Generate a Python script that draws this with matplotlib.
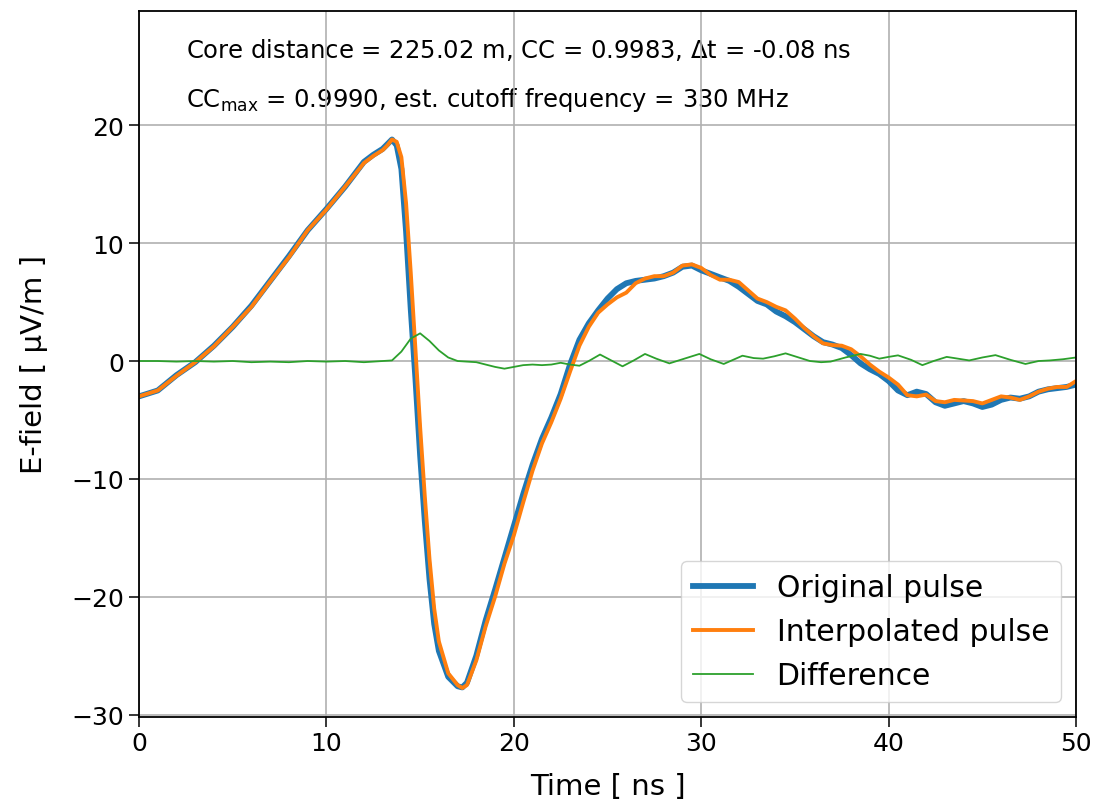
"""E-field pulse: original vs. interpolated trace and their difference."""
import matplotlib

matplotlib.use("Agg")
import matplotlib.pyplot as plt

# time axis of the pulse traces [ns]
time_ns = [0, 1, 2, 3, 4, 5, 6, 7, 8, 9, 10, 11, 12, 12.5, 13, 13.25, 13.5, 13.75,
           14, 14.25, 14.5, 14.75, 15, 15.25, 15.5, 15.75, 16, 16.5, 17, 17.25,
           17.5, 18, 18.5, 19, 19.5, 20, 20.5, 21, 21.5, 22, 22.5, 23, 23.5, 24,
           24.5, 25, 25.5, 26, 26.5, 27, 27.5, 28, 28.5, 29, 29.5, 30, 30.5, 31,
           31.5, 32, 32.5, 33, 33.5, 34, 34.5, 35, 35.5, 36, 36.5, 37, 37.5, 38,
           38.5, 39, 39.5, 40, 40.5, 41, 41.5, 42, 42.5, 43, 43.5, 44, 44.5, 45,
           45.5, 46, 46.5, 47, 47.5, 48, 48.5, 49, 49.5, 50]

original = [-3.0, -2.5, -1.2, -0.1, 1.3, 2.9, 4.7, 6.8, 8.9, 11.1, 12.9, 14.8, 16.9,
            17.5, 18.0, 18.4, 18.8, 18.3, 16.3, 11.0, 4.4, -1.5, -8.0, -13.6,
            -18.5, -22.3, -24.6, -26.8, -27.6, -27.7, -27.3, -25.0, -22.0, -19.4,
            -16.7, -14.0, -11.3, -8.8, -6.6, -4.8, -2.8, -0.3, 1.8, 3.2, 4.3, 5.3,
            6.1, 6.6, 6.8, 6.9, 7.0, 7.2, 7.5, 8.0, 8.1, 7.7, 7.4, 7.1, 6.8, 6.3,
            5.7, 5.1, 4.8, 4.2, 3.8, 3.3, 2.7, 2.1, 1.6, 1.4, 1.1, 0.5, -0.2, -0.7,
            -1.1, -1.7, -2.5, -2.9, -2.6, -2.8, -3.5, -3.8, -3.6, -3.4, -3.6, -3.9,
            -3.7, -3.3, -3.1, -3.2, -3.0, -2.6, -2.4, -2.3, -2.2, -2.0]

interpolated = [-3.0, -2.5, -1.25, -0.1, 1.25, 2.9, 4.6, 6.75, 8.8, 11.1, 12.85, 14.8,
                16.8, 17.4, 17.9, 18.3, 18.8, 18.6, 17.3, 13.4, 7.5, 1.0, -5.6,
                -11.5, -16.8, -21.0, -23.8, -26.5, -27.5, -27.75, -27.5, -25.4,
                -22.5, -20.0, -17.2, -14.8, -12.0, -9.3, -7.0, -5.2, -3.2, -0.9,
                1.3, 2.9, 4.1, 4.8, 5.4, 5.8, 6.6, 7.0, 7.2, 7.2, 7.5, 8.1, 8.2,
                7.9, 7.3, 6.9, 6.9, 6.7, 6.0, 5.3, 5.0, 4.6, 4.3, 3.6, 2.8, 2.1,
                1.5, 1.35, 1.3, 1.0, 0.4, -0.3, -0.9, -1.4, -2.0, -2.9, -3.0, -2.85,
                -3.4, -3.5, -3.3, -3.35, -3.4, -3.6, -3.3, -3.0, -3.1, -3.3, -3.0,
                -2.6, -2.35, -2.2, -2.2, -1.7]

# difference trace (interpolated - original), sampled on its own grid
diff_time_ns = [0, 1, 2, 3, 4, 5, 6, 7, 8, 9, 10, 11, 12, 13, 13.5, 14, 14.5, 15,
                15.5, 16, 16.5, 17, 17.5, 18, 18.5, 19, 19.5, 20, 20.5, 21, 21.5,
                22, 22.5, 23, 23.5, 24, 24.6, 25.2, 25.8, 26.4, 27.0, 27.6, 28.3,
                29.1, 29.9, 30.5, 31.2, 31.7, 32.2, 32.8, 33.3, 33.9, 34.5, 35.2,
                35.8, 36.4, 36.9, 37.7, 38.5, 39.0, 39.5, 40.0, 40.5, 41.2, 41.8,
                42.4, 43.1, 43.7, 44.3, 45.0, 45.7, 46.5, 47.3, 48.0, 48.6, 49.3, 50]
difference = [0.0, 0.0, -0.05, 0.0, -0.05, 0.0, -0.1, -0.05, -0.1, 0.0, -0.05, 0.0,
              -0.1, 0.0, 0.05, 0.8, 1.9, 2.35, 1.7, 0.9, 0.3, 0.0, -0.05, -0.1, -0.3,
              -0.5, -0.65, -0.5, -0.35, -0.3, -0.35, -0.3, -0.15, -0.3, -0.4, 0.0,
              0.55, 0.05, -0.45, 0.05, 0.6, 0.2, -0.2, 0.2, 0.6, 0.15, -0.25, 0.1,
              0.45, 0.25, 0.2, 0.4, 0.65, 0.3, 0.0, -0.1, -0.05, 0.3, 0.6, 0.45,
              0.2, 0.35, 0.48, 0.1, -0.35, 0.0, 0.35, 0.2, 0.05, 0.3, 0.5, 0.1,
              -0.25, 0.0, 0.05, 0.15, 0.3]

info_lines = ["Core distance = 225.02 m, CC = 0.9983, $\\Delta$t = -0.08 ns",
              "CC$_\\mathregular{max}$ = 0.9990, est. cutoff frequency = 330 MHz"]


def main():
    fig = plt.figure(figsize=(10.98, 8.03), dpi=100)
    ax = fig.add_axes([0.1266, 0.106, 0.8534, 0.879])

    ax.plot(time_ns, original, color="#1f77b4", lw=4.2, label="Original pulse")
    ax.plot(time_ns, interpolated, color="#ff7f0e", lw=2.8, label="Interpolated pulse")
    ax.plot(diff_time_ns, difference, color="#2ca02c", lw=1.3, label="Difference")

    ax.set_xlim(0, 50)
    ax.set_ylim(-30.2, 29.7)
    ax.set_yticks([-30, -20, -10, 0, 10, 20])
    ax.grid(True, color="#b0b0b0", lw=1.2)
    for s in ax.spines.values():
        s.set_linewidth(1.3)
    ax.tick_params(labelsize=18, length=7, width=1.1)
    ax.set_xlabel("Time [ ns ]", fontsize=21, labelpad=12)
    ax.set_ylabel("E-field [ µV/m ]", fontsize=21, labelpad=17)

    ax.text(2.5, 26.5, info_lines[0], fontsize=17.5, va="center", zorder=0.5)
    ax.text(2.5, 22.2, info_lines[1], fontsize=17.5, va="center", zorder=0.5)

    ax.legend(loc="lower right", fontsize=21.5)

    fig.savefig("out.png", dpi=100)


if __name__ == "__main__":
    main()
